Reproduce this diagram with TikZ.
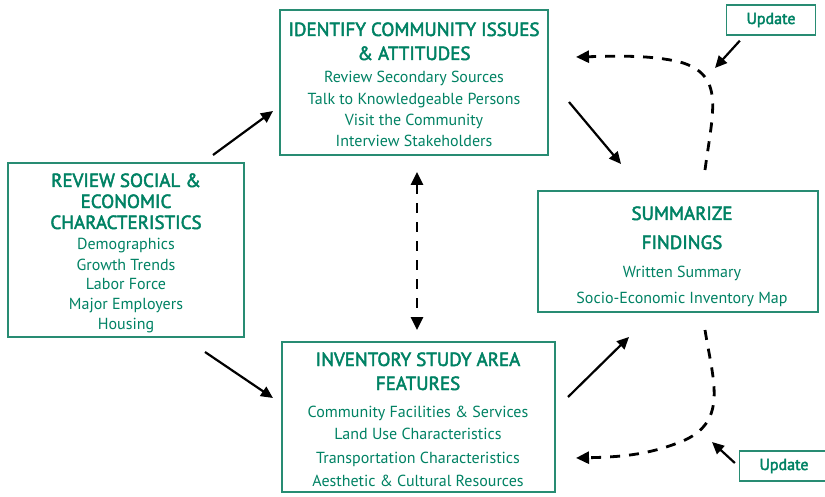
\documentclass[tikz,border=0pt]{standalone}
\usepackage{fontspec}
\setmainfont{PT Sans}
\newfontfamily\ttlfont{PT Sans}[FakeBold=2.5]
\usetikzlibrary{arrows.meta}
\definecolor{tealtxt}{RGB}{0,130,100}
\definecolor{tealbd}{RGB}{40,140,115}
\tikzset{
  x=1pt,y=-1pt,
  stepbox/.style={draw=tealbd,line width=2.6pt,fill=white,inner sep=0pt},
  ttl/.style={text=tealtxt,font=\ttlfont\fontsize{19}{21}\selectfont,anchor=base,inner sep=0pt,yshift=-7pt},
  itm/.style={text=tealtxt,font=\fontsize{16}{18}\selectfont,anchor=base,inner sep=0pt,yshift=-6pt},
  upd/.style={draw=tealbd,line width=1.3pt,text=tealtxt,font=\ttlfont\fontsize{16}{18}\selectfont,minimum width=89pt,minimum height=30pt,inner sep=0pt},
  arr/.style={line width=2.2pt,-{Triangle[length=12pt,width=11pt]}},
  darr/.style={line width=2.8pt,dash pattern=on 10pt off 9pt,-{Triangle[length=13pt,width=12pt]}},
  ddarr/.style={line width=2.8pt,dash pattern=on 10pt off 9pt,{Triangle[length=13pt,width=12pt]}-{Triangle[length=13pt,width=12pt]}},
}
\begin{document}
\begin{tikzpicture}
\useasboundingbox (0,0) rectangle (825,497);
% boxes
\draw[stepbox] (280,10) rectangle (548,155);
\node[ttl] (t1) at (414,29) {IDENTIFY COMMUNITY ISSUES};
\node[ttl] (t2) at (414,53) {\&\ ATTITUDES};
\node[itm] (t3) at (414,77) {Review Secondary Sources};
\node[itm] (t4) at (414,99) {Talk to Knowledgeable Persons};
\node[itm] (t5) at (414,120) {Visit the Community};
\node[itm] (t6) at (414,141) {Interview Stakeholders};

\draw[stepbox] (8,163) rectangle (244,337);
\node[ttl] (l1) at (126,180) {REVIEW SOCIAL \&};
\node[ttl] (l2) at (126,201) {ECONOMIC};
\node[ttl] (l3) at (126,222) {CHARACTERISTICS};
\node[itm] (l4) at (126,244) {Demographics};
\node[itm] (l5) at (126,265) {Growth Trends};
\node[itm] (l6) at (126,284) {Labor Force};
\node[itm] (l7) at (126,303) {Major Employers};
\node[itm] (l8) at (126,324) {Housing};

\draw[stepbox] (538,191) rectangle (818,312);
\node[ttl] (r1) at (682,213) {SUMMARIZE};
\node[ttl] (r2) at (682,242) {FINDINGS};
\node[itm] (r3) at (682,271) {Written Summary};
\node[itm] (r4) at (682,297) {Socio-Economic Inventory Map};

\draw[stepbox] (282,342) rectangle (555,492);
\node[ttl] (b1) at (418,359) {INVENTORY STUDY AREA};
\node[ttl] (b2) at (418,383) {FEATURES};
\node[itm] (b3) at (418,411) {Community Facilities \&\ Services};
\node[itm] (b4) at (418,433) {Land Use Characteristics};
\node[itm] (b5) at (418,457) {Transportation Characteristics};
\node[itm] (b6) at (418,480) {Aesthetic \&\ Cultural Resources};

\node[upd] (u1) at (771,20) {Update};
\node[upd] (u2) at (784,466) {Update};

% arrow end coordinates
\coordinate (a1s) at (213,155); \coordinate (a1e) at (273,111);
\coordinate (a2s) at (205,352); \coordinate (a2e) at (273,398);
\coordinate (a3s) at (569,102); \coordinate (a3e) at (621,164);
\coordinate (a4s) at (568,397); \coordinate (a4e) at (629,337);
\coordinate (vt) at (417,172); \coordinate (vb) at (417,330);
\coordinate (d1s) at (705,170); \coordinate (d1e) at (576,57);
\coordinate (d2s) at (705,330); \coordinate (d2e) at (576,458);
\coordinate (u1e) at (715,68); \coordinate (u2e) at (712,442);

\draw[arr] (a1s) -- (a1e);
\draw[arr] (a2s) -- (a2e);
\draw[arr] (a3s) -- (a3e);
\draw[arr] (a4s) -- (a4e);
\draw[ddarr] (vt) -- (vb);
\draw[darr] (d1s) .. controls (713,110) and (725,75) .. (680,62) .. controls (650,55) and (620,56) .. (d1e);
\draw[darr] (d2s) .. controls (713,380) and (728,420) .. (685,440) .. controls (650,455) and (620,457) .. (d2e);
\draw[arr] (u1.south west) ++(14,5) coordinate (u1s) (u1s) -- (u1e);
\draw[arr] (u2.west) ++(-4,-3) coordinate (u2s) (u2s) -- (u2e);
\end{tikzpicture}
\end{document}
